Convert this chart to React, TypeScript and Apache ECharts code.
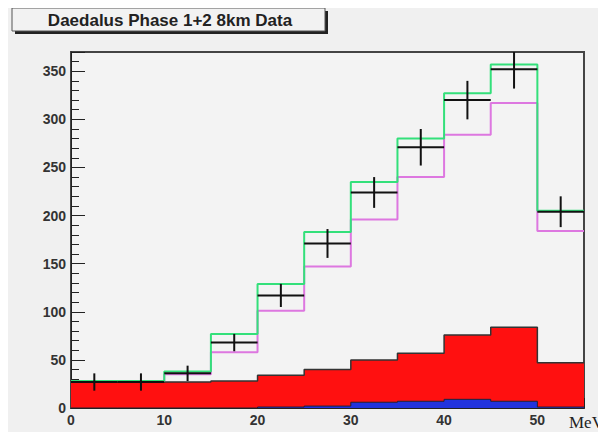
import React, { useEffect, useRef } from "react";
import * as echarts from "echarts";

// Bin lower edges (MeV), bin width 5
const binLow = [0, 5, 10, 15, 20, 25, 30, 35, 40, 45, 50];
const binWidth = 5;
// Filled red background histogram
const redHist = [27, 27, 27, 28, 34, 40, 50, 57, 76, 84, 47];
// Filled blue background histogram
const blueHist = [0, 0, 0, 0, 1, 2, 6, 7, 9, 7, 1];
// Magenta outline histogram
const magentaHist = [28, 28, 35, 58, 101, 147, 196, 240, 284, 317, 184];
// Green outline histogram
const greenHist = [28, 28, 38, 77, 129, 183, 235, 280, 327, 357, 205];
// Data points and errors
const dataVals = [27, 27, 36, 68, 117, 171, 224, 271, 320, 352, 204];
const dataErr = [9, 9, 8, 9, 12, 15, 16, 19, 20, 20, 16];

const title = "Daedalus Phase 1+2 8km Data";
const xUnit = "MeV";

function stepPoints(vals: number[]) {
  const pts = binLow.map((x, i) => [x, vals[i]]);
  pts.push([binLow[binLow.length - 1] + binWidth, vals[vals.length - 1]]);
  return pts;
}

export default function App() {
  const ref = useRef<HTMLDivElement>(null);
  useEffect(() => {
    if (!ref.current) return;
    const chart = echarts.init(ref.current, undefined, { renderer: "svg" });
    const labelStyle = {
      fontFamily: "Liberation Sans, Arial, sans-serif",
      fontSize: 14,
      fontWeight: "bold" as const,
      color: "#333",
    };
    chart.setOption({
      animation: false,
      backgroundColor: "#f0f0f0",
      grid: {
        left: 71,
        top: 52,
        right: 22,
        bottom: 24,
        show: true,
        backgroundColor: "#f3f3f3",
        borderColor: "#444",
        borderWidth: 2,
      },
      xAxis: {
        type: "value",
        min: 0,
        max: 55,
        interval: 10,
        axisLine: { show: true, lineStyle: { color: "#222", width: 1 } },
        axisTick: { show: true, inside: true, length: 10, lineStyle: { color: "#222" } },
        minorTick: { show: true, splitNumber: 5, length: 5, lineStyle: { color: "#222" } },
        splitLine: { show: false },
        axisLabel: { ...labelStyle, margin: 5, showMaxLabel: false },
      },
      yAxis: {
        type: "value",
        min: 0,
        max: 370,
        interval: 50,
        axisLine: { show: true, lineStyle: { color: "#222", width: 1 } },
        axisTick: { show: true, inside: true, length: 14, lineStyle: { color: "#222" } },
        minorTick: { show: true, splitNumber: 5, length: 8, lineStyle: { color: "#222" } },
        splitLine: { show: false },
        axisLabel: { ...labelStyle, margin: 5, showMaxLabel: false },
      },
      graphic: [
        { type: "rect", shape: { x: 15, y: 11, width: 313, height: 23 }, style: { fill: "#222" } },
        { type: "rect", shape: { x: 12, y: 8, width: 313, height: 23 }, style: { fill: "#f2f2f2", stroke: "#555", lineWidth: 1 } },
        {
          type: "text",
          x: 170,
          y: 20,
          style: {
            text: title,
            align: "center",
            verticalAlign: "middle",
            fontFamily: "Liberation Sans, Arial, sans-serif",
            fontSize: 17,
            fontWeight: "bold",
            fill: "#222",
          },
        },
        {
          type: "text",
          x: 569,
          y: 422,
          style: {
            text: xUnit,
            verticalAlign: "middle",
            fontFamily: "Liberation Serif, Times New Roman, serif",
            fontSize: 17,
            fill: "#222",
          },
        },
      ],
      series: [
        {
          type: "line",
          step: "end",
          symbol: "none",
          data: stepPoints(redHist),
          lineStyle: { color: "#333", width: 1.5 },
          areaStyle: { color: "#ff1010", opacity: 1 },
          z: 2,
        },
        {
          type: "line",
          step: "end",
          symbol: "none",
          data: stepPoints(blueHist),
          lineStyle: { color: "#223", width: 1 },
          areaStyle: { color: "#2233dd", opacity: 1 },
          z: 3,
        },
        {
          type: "line",
          step: "end",
          symbol: "none",
          data: stepPoints(magentaHist),
          lineStyle: { color: "#dd77e0", width: 2 },
          z: 4,
        },
        {
          type: "line",
          step: "end",
          symbol: "none",
          data: stepPoints(greenHist),
          lineStyle: { color: "#33e07a", width: 2 },
          z: 5,
        },
        {
          type: "custom",
          z: 6,
          clip: true,
          encode: { x: [0, 1], y: 2 },
          data: binLow.map((lo, i) => [lo, lo + binWidth, dataVals[i], dataErr[i]]),
          renderItem: (params: any, api: any) => {
            const lo = api.value(0);
            const hi = api.value(1);
            const v = api.value(2);
            const e = api.value(3);
            const mid = (lo + hi) / 2;
            const pL = api.coord([lo, v]);
            const pR = api.coord([hi, v]);
            const pT = api.coord([mid, v + e]);
            const pB = api.coord([mid, Math.max(0, v - e)]);
            return {
              type: "group",
              children: [
                { type: "line", shape: { x1: pL[0], y1: pL[1], x2: pR[0], y2: pR[1] }, style: { stroke: "#111", lineWidth: 2 } },
                { type: "line", shape: { x1: pT[0], y1: pT[1], x2: pB[0], y2: pB[1] }, style: { stroke: "#111", lineWidth: 2 } },
              ],
            };
          },
        },
      ],
    });
    return () => chart.dispose();
  }, []);
  return <div ref={ref} style={{ width: 606, height: 432, marginLeft: -8, marginTop: -8 }} />;
}
